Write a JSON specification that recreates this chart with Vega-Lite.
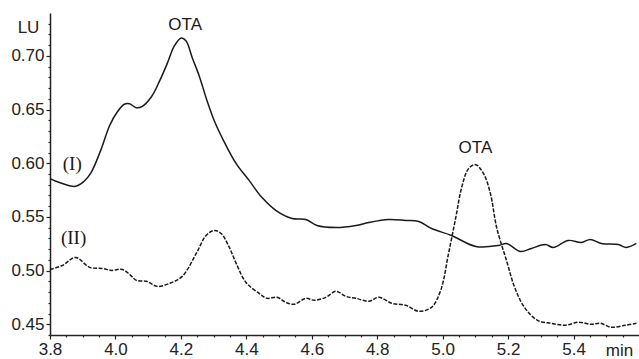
{
  "$schema": "https://vega.github.io/schema/vega-lite/v6.json",
  "width": 589,
  "height": 322,
  "autosize": {"type": "none"},
  "padding": {"left": 50, "top": 13, "right": 0, "bottom": 24},
  "background": "white",
  "config": {"view": {"stroke": null}, "font": "Liberation Sans"},
  "datasets": {
    "curves": [
      {"series": "I", "t": 3.800, "lu": 0.5857},
      {"series": "I", "t": 3.829, "lu": 0.5820},
      {"series": "I", "t": 3.878, "lu": 0.5785},
      {"series": "I", "t": 3.905, "lu": 0.5835},
      {"series": "I", "t": 3.925, "lu": 0.5910},
      {"series": "I", "t": 3.955, "lu": 0.6120},
      {"series": "I", "t": 3.982, "lu": 0.6350},
      {"series": "I", "t": 4.006, "lu": 0.6480},
      {"series": "I", "t": 4.027, "lu": 0.6550},
      {"series": "I", "t": 4.043, "lu": 0.6554},
      {"series": "I", "t": 4.064, "lu": 0.6517},
      {"series": "I", "t": 4.082, "lu": 0.6530},
      {"series": "I", "t": 4.110, "lu": 0.6620},
      {"series": "I", "t": 4.134, "lu": 0.6760},
      {"series": "I", "t": 4.159, "lu": 0.6935},
      {"series": "I", "t": 4.180, "lu": 0.7093},
      {"series": "I", "t": 4.201, "lu": 0.7167},
      {"series": "I", "t": 4.216, "lu": 0.7139},
      {"series": "I", "t": 4.235, "lu": 0.6981},
      {"series": "I", "t": 4.256, "lu": 0.6814},
      {"series": "I", "t": 4.277, "lu": 0.6610},
      {"series": "I", "t": 4.302, "lu": 0.6396},
      {"series": "I", "t": 4.326, "lu": 0.6238},
      {"series": "I", "t": 4.369, "lu": 0.5996},
      {"series": "I", "t": 4.409, "lu": 0.5838},
      {"series": "I", "t": 4.448, "lu": 0.5680},
      {"series": "I", "t": 4.491, "lu": 0.5559},
      {"series": "I", "t": 4.540, "lu": 0.5485},
      {"series": "I", "t": 4.582, "lu": 0.5476},
      {"series": "I", "t": 4.616, "lu": 0.5420},
      {"series": "I", "t": 4.674, "lu": 0.5401},
      {"series": "I", "t": 4.735, "lu": 0.5420},
      {"series": "I", "t": 4.774, "lu": 0.5448},
      {"series": "I", "t": 4.835, "lu": 0.5476},
      {"series": "I", "t": 4.887, "lu": 0.5467},
      {"series": "I", "t": 4.927, "lu": 0.5457},
      {"series": "I", "t": 4.966, "lu": 0.5392},
      {"series": "I", "t": 5.027, "lu": 0.5327},
      {"series": "I", "t": 5.101, "lu": 0.5225},
      {"series": "I", "t": 5.171, "lu": 0.5234},
      {"series": "I", "t": 5.195, "lu": 0.5253},
      {"series": "I", "t": 5.238, "lu": 0.5178},
      {"series": "I", "t": 5.271, "lu": 0.5206},
      {"series": "I", "t": 5.314, "lu": 0.5243},
      {"series": "I", "t": 5.338, "lu": 0.5216},
      {"series": "I", "t": 5.384, "lu": 0.5281},
      {"series": "I", "t": 5.424, "lu": 0.5262},
      {"series": "I", "t": 5.451, "lu": 0.5290},
      {"series": "I", "t": 5.485, "lu": 0.5253},
      {"series": "I", "t": 5.537, "lu": 0.5243},
      {"series": "I", "t": 5.561, "lu": 0.5216},
      {"series": "I", "t": 5.592, "lu": 0.5253},
      {"series": "II", "t": 3.800, "lu": 0.5011},
      {"series": "II", "t": 3.838, "lu": 0.5048},
      {"series": "II", "t": 3.878, "lu": 0.5123},
      {"series": "II", "t": 3.921, "lu": 0.5030},
      {"series": "II", "t": 3.960, "lu": 0.5020},
      {"series": "II", "t": 3.988, "lu": 0.5002},
      {"series": "II", "t": 4.021, "lu": 0.5011},
      {"series": "II", "t": 4.045, "lu": 0.4960},
      {"series": "II", "t": 4.064, "lu": 0.4909},
      {"series": "II", "t": 4.095, "lu": 0.4900},
      {"series": "II", "t": 4.128, "lu": 0.4853},
      {"series": "II", "t": 4.165, "lu": 0.4881},
      {"series": "II", "t": 4.204, "lu": 0.4946},
      {"series": "II", "t": 4.247, "lu": 0.5160},
      {"series": "II", "t": 4.277, "lu": 0.5327},
      {"series": "II", "t": 4.302, "lu": 0.5374},
      {"series": "II", "t": 4.323, "lu": 0.5346},
      {"series": "II", "t": 4.348, "lu": 0.5216},
      {"series": "II", "t": 4.369, "lu": 0.5067},
      {"series": "II", "t": 4.399, "lu": 0.4890},
      {"series": "II", "t": 4.439, "lu": 0.4788},
      {"series": "II", "t": 4.463, "lu": 0.4742},
      {"series": "II", "t": 4.494, "lu": 0.4751},
      {"series": "II", "t": 4.521, "lu": 0.4704},
      {"series": "II", "t": 4.546, "lu": 0.4686},
      {"series": "II", "t": 4.582, "lu": 0.4742},
      {"series": "II", "t": 4.607, "lu": 0.4723},
      {"series": "II", "t": 4.643, "lu": 0.4751},
      {"series": "II", "t": 4.674, "lu": 0.4807},
      {"series": "II", "t": 4.704, "lu": 0.4760},
      {"series": "II", "t": 4.735, "lu": 0.4742},
      {"series": "II", "t": 4.774, "lu": 0.4714},
      {"series": "II", "t": 4.805, "lu": 0.4751},
      {"series": "II", "t": 4.845, "lu": 0.4695},
      {"series": "II", "t": 4.887, "lu": 0.4677},
      {"series": "II", "t": 4.927, "lu": 0.4621},
      {"series": "II", "t": 4.966, "lu": 0.4658},
      {"series": "II", "t": 4.994, "lu": 0.4816},
      {"series": "II", "t": 5.018, "lu": 0.5160},
      {"series": "II", "t": 5.040, "lu": 0.5494},
      {"series": "II", "t": 5.058, "lu": 0.5773},
      {"series": "II", "t": 5.079, "lu": 0.5950},
      {"series": "II", "t": 5.101, "lu": 0.5987},
      {"series": "II", "t": 5.125, "lu": 0.5903},
      {"series": "II", "t": 5.146, "lu": 0.5717},
      {"series": "II", "t": 5.165, "lu": 0.5401},
      {"series": "II", "t": 5.195, "lu": 0.5095},
      {"series": "II", "t": 5.220, "lu": 0.4844},
      {"series": "II", "t": 5.250, "lu": 0.4658},
      {"series": "II", "t": 5.290, "lu": 0.4537},
      {"series": "II", "t": 5.332, "lu": 0.4509},
      {"series": "II", "t": 5.375, "lu": 0.4491},
      {"series": "II", "t": 5.415, "lu": 0.4519},
      {"series": "II", "t": 5.454, "lu": 0.4500},
      {"series": "II", "t": 5.482, "lu": 0.4509},
      {"series": "II", "t": 5.515, "lu": 0.4472},
      {"series": "II", "t": 5.558, "lu": 0.4491},
      {"series": "II", "t": 5.592, "lu": 0.4509}
    ],
    "labels": [
      {"t": 4.213, "lu": 0.7288, "label": "OTA", "kind": "sans"},
      {"t": 5.100, "lu": 0.6138, "label": "OTA", "kind": "sans"},
      {"t": 3.868, "lu": 0.5990, "label": "(I)", "kind": "serif"},
      {"t": 3.872, "lu": 0.5304, "label": "(II)", "kind": "serif"}
    ]
  },
  "encoding": {
    "x": {
      "field": "t",
      "type": "quantitative",
      "scale": {"domain": [3.8, 5.6], "nice": false, "zero": false},
      "axis": {
        "title": "min",
        "titleX": 569,
        "titleY": 15,
        "titleAngle": 0,
        "titleAlign": "center",
        "titleBaseline": "middle",
        "titleFont": "Liberation Sans",
        "titleFontSize": 17,
        "titleFontWeight": "normal",
        "titleColor": "#222",
        "values": [3.8, 3.85, 3.9, 3.95, 4.0, 4.05, 4.1, 4.15, 4.2, 4.25, 4.3, 4.35, 4.4, 4.45, 4.5, 4.55, 4.6, 4.65, 4.7, 4.75, 4.8, 4.85, 4.9, 4.95, 5.0, 5.05, 5.1, 5.15, 5.2, 5.25, 5.3, 5.35, 5.4, 5.45, 5.5, 5.55],
        "labelExpr": "abs(datum.value*5 - round(datum.value*5)) < 0.001 ? format(datum.value, '.1f') : ''",
        "tickSize": {"condition": {"test": "abs(datum.value*5 - round(datum.value*5)) < 0.001", "value": 4}, "value": 2},
        "labelFont": "Liberation Sans",
        "labelFontSize": 17,
        "labelColor": "#222",
        "labelPadding": 2,
        "labelFlush": false,
        "labelOverlap": false,
        "grid": false,
        "domainColor": "#222",
        "domainWidth": 1.5,
        "tickColor": "#222",
        "tickWidth": 1.2
      }
    },
    "y": {
      "field": "lu",
      "type": "quantitative",
      "scale": {"domain": [0.44, 0.74], "nice": false, "zero": false},
      "axis": {
        "title": "LU",
        "titleX": -22,
        "titleY": 14,
        "titleAngle": 0,
        "titleAlign": "center",
        "titleBaseline": "middle",
        "titleFont": "Liberation Sans",
        "titleFontSize": 17,
        "titleFontWeight": "normal",
        "titleColor": "#222",
        "values": [0.44, 0.45, 0.46, 0.47, 0.48, 0.49, 0.5, 0.51, 0.52, 0.53, 0.54, 0.55, 0.56, 0.57, 0.58, 0.59, 0.6, 0.61, 0.62, 0.63, 0.64, 0.65, 0.66, 0.67, 0.68, 0.69, 0.7, 0.71, 0.72, 0.73],
        "labelExpr": "abs(datum.value*20 - round(datum.value*20)) < 0.001 ? format(datum.value, '.2f') : ''",
        "tickSize": {"condition": {"test": "abs(datum.value*20 - round(datum.value*20)) < 0.001", "value": 4}, "value": 2},
        "labelFont": "Liberation Sans",
        "labelFontSize": 17,
        "labelColor": "#222",
        "labelPadding": 2,
        "labelFlush": false,
        "labelOverlap": false,
        "grid": false,
        "domainColor": "#222",
        "domainWidth": 1.5,
        "tickColor": "#222",
        "tickWidth": 1.2
      }
    }
  },
  "layer": [
    {
      "data": {"name": "curves"},
      "transform": [{"filter": "datum.series === 'I'"}],
      "mark": {"type": "line", "interpolate": "catmull-rom", "color": "#1a1a1a", "strokeWidth": 1.5}
    },
    {
      "data": {"name": "curves"},
      "transform": [{"filter": "datum.series === 'II'"}],
      "mark": {"type": "line", "interpolate": "catmull-rom", "color": "#1a1a1a", "strokeWidth": 1.5, "strokeDash": [4, 1.5]}
    },
    {
      "data": {"name": "labels"},
      "transform": [{"filter": "datum.kind === 'sans'"}],
      "mark": {"type": "text", "font": "Liberation Sans", "fontSize": 17, "color": "#1a1a1a", "baseline": "middle", "align": "center"},
      "encoding": {"text": {"field": "label"}}
    },
    {
      "data": {"name": "labels"},
      "transform": [{"filter": "datum.kind === 'serif'"}],
      "mark": {"type": "text", "font": "Liberation Serif", "fontSize": 19, "color": "#1a1a1a", "baseline": "middle", "align": "center"},
      "encoding": {"text": {"field": "label"}}
    }
  ]
}
